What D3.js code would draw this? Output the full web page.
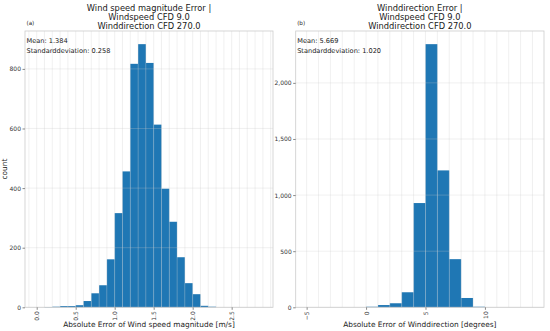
<!DOCTYPE html>
<head>
  <meta charset="utf-8">
  <script src="https://d3js.org/d3.v7.min.js"></script>
  <style>
    body { margin: 0; background: #fff; }
    text { font-family: "DejaVu Sans", sans-serif; }
  </style>
</head>
<body>
  <div id="chart"></div>
  <script>
    // wind speed error histogram (bin lower edges, width 0.1)
    var speedBins = [0.1, 0.2, 0.3, 0.4, 0.5, 0.6, 0.7, 0.8, 0.9, 1.0, 1.1,
                     1.2, 1.3, 1.4, 1.5, 1.6, 1.7, 1.8, 1.9, 2.0, 2.1, 2.2];
    var speedCounts = [1, 2, 4, 4, 7, 21, 47, 74, 161, 316, 456,
                       817, 883, 820, 613, 398, 287, 168, 81, 44, 5, 2];
    var speedWidth = 0.1;
    var speedXTicks = [0.0, 0.5, 1.0, 1.5, 2.0, 2.5];
    var speedYTicks = [0, 200, 400, 600, 800];

    // wind direction error histogram (bin lower edges, width 1)
    var dirBins = [0, 1, 2, 3, 4, 5, 6, 7, 8, 9];
    var dirCounts = [5, 20, 36, 134, 929, 2345, 1220, 429, 83, 5];
    var dirWidth = 1;
    var dirXTicks = [-5, 0, 5, 10];
    var dirYTicks = [0, 500, 1000, 1500, 2000];

    var width = 550, height = 331;

    var svg = d3.select("#chart")
      .append("svg")
      .attr("width", width)
      .attr("height", height)

    var panels = [
      {
        left: 25, right: 273, top: 31, bottom: 307.3,
        xdom: [-0.15, 3.03],
        bins: speedBins, counts: speedCounts, binw: speedWidth,
        gridStep: 0.1, gridFrom: -0.1, gridTo: 3.0,
        xticks: speedXTicks, yticks: speedYTicks,
        xfmt: d3.format(".1f"), yfmt: d3.format(","),
        tag: "(a)",
        title: ["Wind speed magnitude Error |", "Windspeed CFD 9.0", "Winddirection CFD 270.0"],
        stats: ["Mean: 1.384", "Standarddeviation: 0.258"],
        xlabel: "Absolute Error of Wind speed magnitude [m/s]",
        ylabel: "count"
      },
      {
        left: 295.7, right: 544, top: 31, bottom: 307.3,
        xdom: [-5.92, 14.97],
        bins: dirBins, counts: dirCounts, binw: dirWidth,
        gridStep: 1, gridFrom: -5, gridTo: 14,
        xticks: dirXTicks, yticks: dirYTicks,
        xfmt: function(d) { return d < 0 ? "\u2212" + Math.abs(d) : "" + d },
        yfmt: d3.format(","),
        tag: "(b)",
        title: ["Winddirection Error |", "Windspeed CFD 9.0", "Winddirection CFD 270.0"],
        stats: ["Mean: 5.669", "Standarddeviation: 1.020"],
        xlabel: "Absolute Error of Winddirection [degrees]",
        ylabel: null
      }
    ];

    panels.forEach(function(p) {
      var x = d3.scaleLinear().domain(p.xdom).range([p.left, p.right]);
      var y = d3.scaleLinear().domain([0, d3.max(p.counts) * 1.05]).range([p.bottom, p.top]);
      var g = svg.append("g");
      var cx = (p.left + p.right) / 2;

      var data = p.bins.map(function(b, i) { return {x0: b, x1: b + p.binw, n: p.counts[i]} });

      g.selectAll(".bar")
        .data(data)
        .enter().append("rect")
        .attr("class", "bar")
        .attr("x", function(d) { return x(d.x0) })
        .attr("width", function(d) { return x(d.x1) - x(d.x0) })
        .attr("y", function(d) { return y(d.n) })
        .attr("height", function(d) { return y(0) - y(d.n) })
        .attr("fill", "#1f77b4")

      // grid drawn above the bars, semi transparent
      var vgrid = d3.range(Math.round((p.gridTo - p.gridFrom) / p.gridStep) + 1)
        .map(function(i) { return p.gridFrom + i * p.gridStep });
      g.selectAll(".vg")
        .data(vgrid)
        .enter().append("line")
        .attr("x1", function(d) { return x(d) })
        .attr("x2", function(d) { return x(d) })
        .attr("y1", p.top)
        .attr("y2", p.bottom)
        .attr("stroke", "rgba(200,200,200,0.35)")
        .attr("stroke-width", 0.8)
      g.selectAll(".hg")
        .data(p.yticks)
        .enter().append("line")
        .attr("x1", p.left)
        .attr("x2", p.right)
        .attr("y1", function(d) { return y(d) })
        .attr("y2", function(d) { return y(d) })
        .attr("stroke", "rgba(200,200,200,0.35)")
        .attr("stroke-width", 0.8)

      // frame
      g.append("rect")
        .attr("x", p.left).attr("y", p.top)
        .attr("width", p.right - p.left).attr("height", p.bottom - p.top)
        .attr("fill", "none")
        .attr("stroke", "#cccccc")
        .attr("stroke-width", 0.8)

      // axes
      var yAxis = d3.axisLeft(y).tickValues(p.yticks).tickFormat(p.yfmt).tickSize(2.5).tickPadding(1.5);
      var ya = g.append("g").attr("transform", "translate(" + p.left + ",0)").call(yAxis);
      ya.select(".domain").remove();
      ya.selectAll("line").attr("stroke", "#888");
      ya.selectAll("text").attr("font-size", "6px").attr("fill", "#333");

      var xAxis = d3.axisBottom(x).tickValues(p.xticks).tickFormat(p.xfmt).tickSize(2.5);
      var xa = g.append("g").attr("transform", "translate(0," + p.bottom + ")").call(xAxis);
      xa.select(".domain").remove();
      xa.selectAll("line").attr("stroke", "#888");
      xa.selectAll("text")
        .attr("font-size", "6px").attr("fill", "#333")
        .attr("transform", "rotate(-90)")
        .attr("text-anchor", "end")
        .attr("x", -4).attr("y", 0).attr("dy", "0.35em")

      // titles
      g.selectAll(".title")
        .data(p.title)
        .enter().append("text")
        .attr("x", cx)
        .attr("y", function(d, i) { return 11 + i * 9.2 })
        .attr("text-anchor", "middle")
        .attr("font-size", "8.3px")
        .attr("fill", "#1a1a1a")
        .text(function(d) { return d })

      g.append("text")
        .attr("x", p.left + 1.5).attr("y", 25)
        .attr("font-size", "5.6px").attr("fill", "#222")
        .text(p.tag)

      g.selectAll(".stat")
        .data(p.stats)
        .enter().append("text")
        .attr("x", p.left + 1.5)
        .attr("y", function(d, i) { return 43.3 + i * 10 })
        .attr("font-size", "6.6px")
        .attr("fill", "#1a1a1a")
        .text(function(d) { return d })

      g.append("text")
        .attr("x", cx).attr("y", 327.3)
        .attr("text-anchor", "middle")
        .attr("font-size", "7.4px").attr("fill", "#1a1a1a")
        .text(p.xlabel)

      if (p.ylabel) {
        g.append("text")
          .attr("transform", "translate(6.8," + ((p.top + p.bottom) / 2) + ") rotate(-90)")
          .attr("text-anchor", "middle")
          .attr("font-size", "7.4px").attr("fill", "#1a1a1a")
          .text(p.ylabel)
      }
    });
  </script>
</body>
